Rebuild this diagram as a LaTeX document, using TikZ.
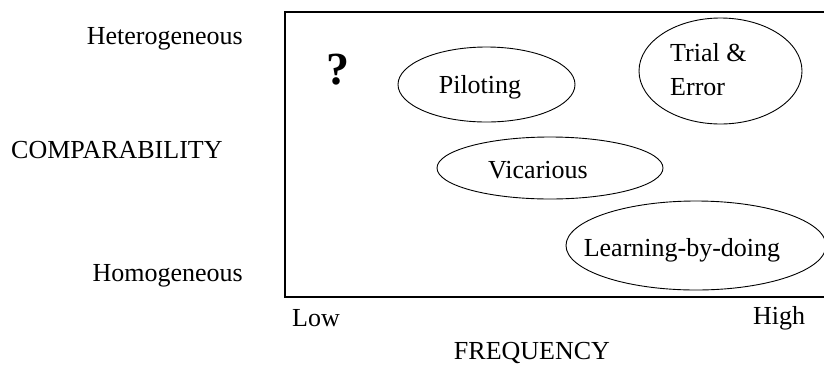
\documentclass[tikz,border=0pt]{standalone}
\usepackage{fontspec}
\setmainfont{Liberation Serif}
\usetikzlibrary{shapes.geometric}
\begin{document}
\begin{tikzpicture}[x=1pt,y=-1pt,
  lbl/.style={inner sep=0pt,font=\fontsize{26}{31}\selectfont},
  oval/.style={draw,ellipse,line width=0.9pt,inner sep=0pt}]
\useasboundingbox (0,0) rectangle (824,365);
\fill[white] (0,0) rectangle (824,365);
\draw[line width=1.3pt] (285,12) rectangle (825,297);
% ellipses
\node[oval,minimum width=177,minimum height=75] (pilE) at (486.5,84.5) {};
\node[oval,minimum width=163,minimum height=106] (triE) at (720.5,71) {};
\node[oval,minimum width=226,minimum height=62] (vicE) at (550,168) {};
\node[oval,minimum width=260,minimum height=89] (lbdE) at (696,245.5) {};
% ellipse texts
\node[lbl,font=\fontsize{26}{34}\selectfont,align=left,anchor=west] (tri) at (670,70) {Trial \&\\Error};
\node[lbl] (pil) at (480,87) {Piloting};
\node[lbl] (vic) at (538,170) {Vicarious};
\node[lbl] (lbd) at (682,250) {Learning-by-doing};
\node[inner sep=0pt,font=\fontsize{46}{50}\selectfont\bfseries] (q) at (338,70) {?};
% axis labels
\node[lbl,anchor=east] (het) at (243,39) {Heterogeneous};
\node[lbl,anchor=west] (comp) at (11,150) {COMPARABILITY};
\node[lbl,anchor=east] (hom) at (243,276) {Homogeneous};
\node[lbl] (low) at (316,318) {Low};
\node[lbl] (high) at (779,318) {High};
\node[lbl] (freq) at (532,353) {FREQUENCY};
\end{tikzpicture}
\end{document}
